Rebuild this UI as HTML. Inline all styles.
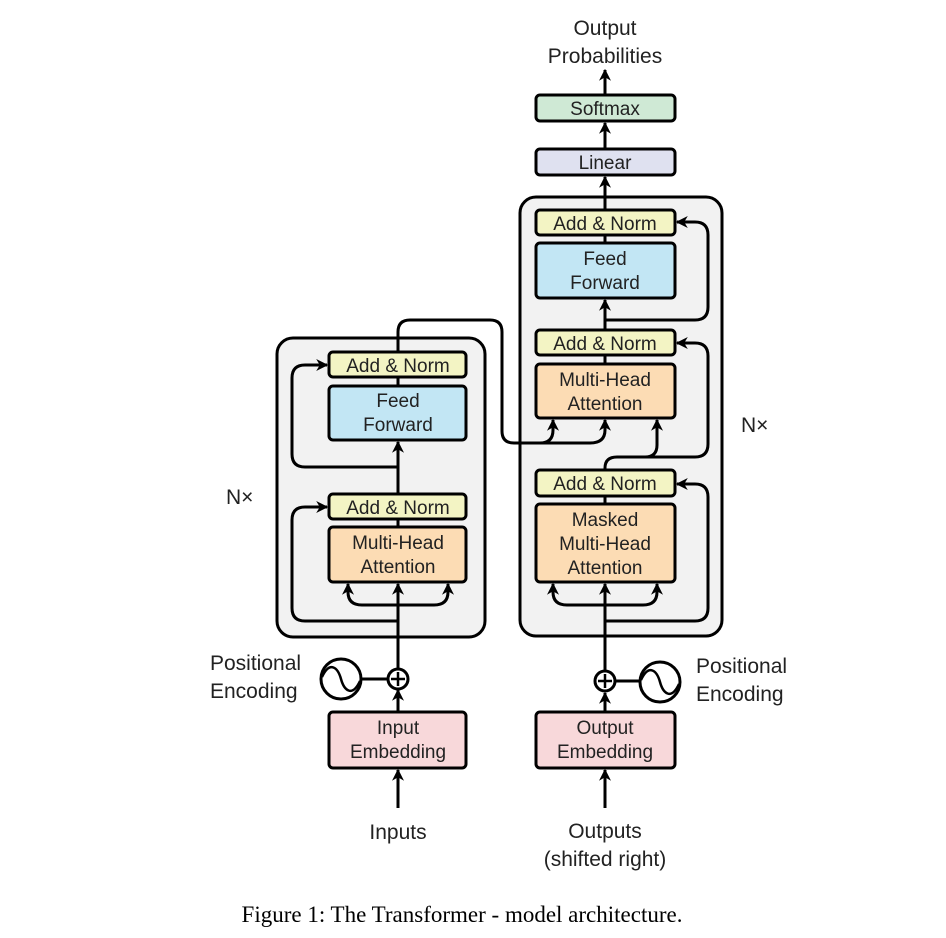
<!DOCTYPE html>
<html><head><meta charset="utf-8"><style>
html,body{margin:0;padding:0;background:#fff;}
svg{display:block;}
text{font-family:"Liberation Sans",sans-serif;fill:#222;}
</style></head><body>
<svg width="946" height="938" viewBox="0 0 946 938" xmlns="http://www.w3.org/2000/svg">
<defs>
<marker id="a" viewBox="0 0 10 10" refX="9" refY="5" markerWidth="4" markerHeight="4" orient="auto" markerUnits="strokeWidth">
<path d="M0,0 L10,5 L0,10 L3,5 z" fill="#000"/>
</marker>
</defs>
<!-- big boxes -->
<rect x="277" y="338" width="208" height="299" rx="16" fill="#f2f2f2" stroke="#000" stroke-width="3"/>
<rect x="520" y="197" width="202" height="439" rx="16" fill="#f2f2f2" stroke="#000" stroke-width="3"/>

<g fill="none" stroke="#000" stroke-width="3" stroke-linejoin="round">
<!-- encoder main line -->
<path d="M398 808 L398 770" marker-end="url(#a)"/>
<path d="M398 712 L398 690" marker-end="url(#a)"/>
<path d="M398 668 L398 584" marker-end="url(#a)"/>
<path d="M398 527 L398 519"/>
<path d="M398 494 L398 442" marker-end="url(#a)"/>
<path d="M398 386 L398 377"/>
<!-- enc fork -->
<path d="M398 605 L362 605 Q348 605 348 592 L348 584" marker-end="url(#a)"/>
<path d="M398 605 L434 605 Q448 605 448 592 L448 584" marker-end="url(#a)"/>
<!-- enc residuals -->
<path d="M398 621 L305 621 Q292 621 292 608 L292 520 Q292 507 305 507 L327 507" marker-end="url(#a)"/>
<path d="M398 467 L305 467 Q292 467 292 454 L292 378 Q292 365 305 365 L327 365" marker-end="url(#a)"/>
<!-- enc output to decoder -->
<path d="M398 352 L398 332 Q398 320 410 320 L490 320 Q502 320 502 332 L502 431 Q502 443 514 443 L590 443"/>
<path d="M540 443 Q553 443 553 430 L553 420" marker-end="url(#a)"/>
<path d="M590 443 Q605 443 605 430 L605 420" marker-end="url(#a)"/>
<!-- decoder main -->
<path d="M605 808 L605 770" marker-end="url(#a)"/>
<path d="M605 712 L605 693" marker-end="url(#a)"/>
<path d="M605 670 L605 584" marker-end="url(#a)"/>
<path d="M605 504 L605 496"/>
<path d="M605 470 L605 468 Q605 457 617 457 L645 457 Q657 457 657 445 L657 420" marker-end="url(#a)"/>
<path d="M605 364 L605 355"/>
<path d="M605 330 L605 300" marker-end="url(#a)"/>
<path d="M605 243 L605 235"/>
<path d="M605 210 L605 177" marker-end="url(#a)"/>
<path d="M605 149 L605 123" marker-end="url(#a)"/>
<path d="M605 95 L605 70" marker-end="url(#a)"/>
<!-- dec fork -->
<path d="M605 605 L567 605 Q553 605 553 592 L553 584" marker-end="url(#a)"/>
<path d="M605 605 L643 605 Q657 605 657 592 L657 584" marker-end="url(#a)"/>
<!-- dec residuals -->
<path d="M605 621 L695 621 Q708 621 708 608 L708 497 Q708 484 695 484 L677 484" marker-end="url(#a)"/>
<path d="M617 457 L695 457 Q708 457 708 444 L708 356 Q708 343 695 343 L677 343" marker-end="url(#a)"/>
<path d="M605 320 L695 320 Q708 320 708 307 L708 235 Q708 222 695 222 L677 222" marker-end="url(#a)"/>
<!-- positional -->
<path d="M361 679 L388 679"/>
<path d="M615 681 L640 681"/>
</g>

<g stroke="#000" stroke-width="3">
<rect x="329" y="352" width="137" height="25" rx="4" fill="#f3f4c4"/>
<rect x="329" y="386" width="137" height="54" rx="4" fill="#c2e6f4"/>
<rect x="329" y="494" width="137" height="25" rx="4" fill="#f3f4c4"/>
<rect x="329" y="527" width="137" height="55" rx="4" fill="#fcdcb4"/>
<rect x="329" y="712" width="137" height="56" rx="4" fill="#f8d8da"/>
<rect x="536" y="210" width="139" height="25" rx="4" fill="#f3f4c4"/>
<rect x="536" y="243" width="139" height="55" rx="4" fill="#c2e6f4"/>
<rect x="536" y="330" width="139" height="25" rx="4" fill="#f3f4c4"/>
<rect x="536" y="364" width="139" height="54" rx="4" fill="#fcdcb4"/>
<rect x="536" y="470" width="139" height="26" rx="4" fill="#f3f4c4"/>
<rect x="536" y="504" width="139" height="78" rx="4" fill="#fcdcb4"/>
<rect x="536" y="712" width="139" height="56" rx="4" fill="#f8d8da"/>
<rect x="536" y="149" width="139" height="26" rx="4" fill="#dfe1f0"/>
<rect x="536" y="95" width="139" height="26" rx="4" fill="#cfe9d5"/>
<!-- plus circles -->
<circle cx="398" cy="679" r="10" fill="#fff"/>
<circle cx="605" cy="681" r="10" fill="#fff"/>
<circle cx="341" cy="679" r="20" fill="#fff"/>
<circle cx="660" cy="682" r="20" fill="#fff"/>
</g>
<g stroke="#000" stroke-width="2.5" fill="none">
<path d="M391 679 H405 M398 672 V686"/>
<path d="M598 681 H612 M605 674 V688"/>
<path d="M322 677 C330 660 338 668 341 679 C344 690 352 698 360 681"/>
<path d="M641 680 C649 663 657 671 660 682 C663 693 671 701 679 684"/>
</g>

<g font-size="19" text-anchor="middle">
<text x="398" y="372">Add &amp; Norm</text>
<text x="398" y="407">Feed</text>
<text x="398" y="431">Forward</text>
<text x="398" y="514">Add &amp; Norm</text>
<text x="398" y="549">Multi-Head</text>
<text x="398" y="573">Attention</text>
<text x="398" y="734">Input</text>
<text x="398" y="758">Embedding</text>
<text x="605" y="230">Add &amp; Norm</text>
<text x="605" y="265">Feed</text>
<text x="605" y="289">Forward</text>
<text x="605" y="350">Add &amp; Norm</text>
<text x="605" y="386">Multi-Head</text>
<text x="605" y="410">Attention</text>
<text x="605" y="490">Add &amp; Norm</text>
<text x="605" y="526">Masked</text>
<text x="605" y="550">Multi-Head</text>
<text x="605" y="574">Attention</text>
<text x="605" y="734">Output</text>
<text x="605" y="758">Embedding</text>
<text x="605" y="169">Linear</text>
<text x="605" y="115">Softmax</text>
</g>
<g font-size="21">
<text x="605" y="35" text-anchor="middle">Output</text>
<text x="605" y="63" text-anchor="middle">Probabilities</text>
<text x="398" y="839" text-anchor="middle">Inputs</text>
<text x="605" y="838" text-anchor="middle">Outputs</text>
<text x="605" y="866" text-anchor="middle">(shifted right)</text>
<text x="210" y="670">Positional</text>
<text x="210" y="698">Encoding</text>
<text x="696" y="673">Positional</text>
<text x="696" y="701">Encoding</text>
<text x="226" y="504">N×</text>
<text x="741" y="432">N×</text>
</g>
<text x="462" y="922" text-anchor="middle" font-size="23" style="font-family:'Liberation Serif',serif;fill:#000">Figure 1: The Transformer - model architecture.</text>
</svg>
</body></html>
